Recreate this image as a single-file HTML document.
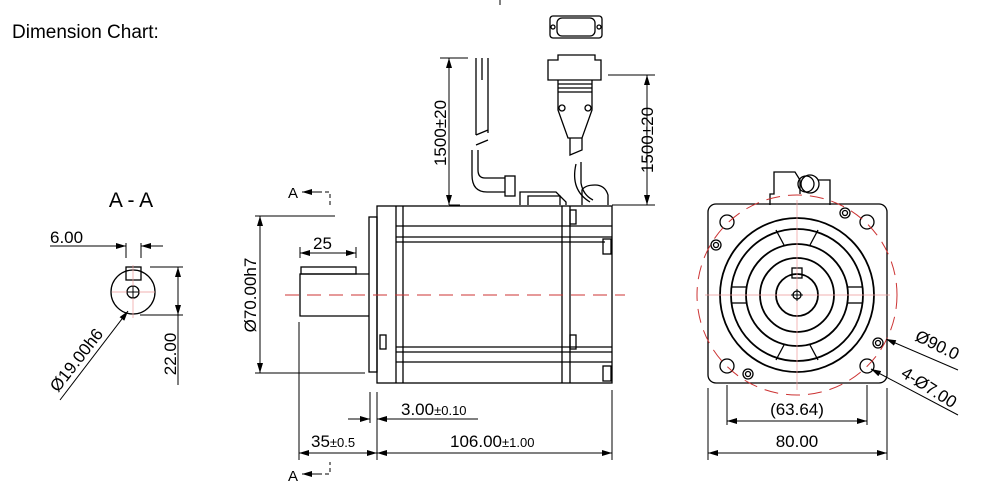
<!DOCTYPE html>
<html><head><meta charset="utf-8"><style>
html,body{margin:0;padding:0;background:#fff;}
svg{display:block;font-family:"Liberation Sans",sans-serif;}
</style></head><body>
<svg width="1000" height="484" viewBox="0 0 1000 484" xmlns="http://www.w3.org/2000/svg">
<defs>
<marker id="ar" viewBox="0 0 10 6" refX="10" refY="3" markerWidth="10" markerHeight="6" orient="auto-start-reverse" markerUnits="userSpaceOnUse"><path d="M0,0L10,3L0,6z" fill="#000"/></marker>
</defs>
<text x="12" y="38" font-size="19" fill="#000">Dimension Chart:</text>
<line x1="500" y1="0" x2="500" y2="5" stroke="#000"/>
<g fill="none" stroke="#000" stroke-width="1.3">
<rect x="377" y="206" width="235" height="177"/>
<rect x="369" y="217" width="8" height="155"/>
<line x1="396" y1="206" x2="396" y2="383"/><line x1="403" y1="206" x2="403" y2="383"/>
<line x1="562" y1="206" x2="562" y2="383"/><line x1="570" y1="206" x2="570" y2="383"/>
<line x1="396" y1="226" x2="612" y2="226"/><line x1="396" y1="237" x2="612" y2="237"/><line x1="396" y1="242" x2="605" y2="242"/>
<line x1="396" y1="347" x2="612" y2="347"/><line x1="396" y1="352" x2="612" y2="352"/><line x1="396" y1="362" x2="612" y2="362"/>
<rect x="380" y="335" width="6" height="14"/><rect x="570" y="335" width="6" height="14"/><rect x="603" y="366" width="8" height="15"/><rect x="603" y="239" width="8" height="15"/><rect x="570" y="210" width="6" height="14"/>
<path d="M369 274 H300 V316 H369"/>
<rect x="301" y="267" width="55" height="7"/>
<path d="M520 205 V192 H556 L566 202 V205"/>
<path d="M528 205 V196 H560 V205"/>
<rect x="505" y="176" width="10" height="20"/>
<path d="M505 178 H485 Q478 178 478 170 V150"/><path d="M505 192 H487 Q472 192 472 175 V150"/>
<path d="M476 135 L476 58 M488 58 L488 133 M476 135 L488 130 M476 145 L488 140"/>
<line x1="482" y1="58" x2="482" y2="80"/>
<path d="M582 205 V190 Q585 185 595 185 Q605 185 608 195 V205"/>
<path d="M576 164 Q570 190 590 202"/><path d="M581 162 L581 183 Q583 195 593 200"/>
<rect x="550" y="16" width="52" height="22" rx="3"/><rect x="557" y="18" width="38" height="18" rx="5"/>
<circle cx="553" cy="27" r="2"/><circle cx="599" cy="27" r="2"/>
<path d="M548 60 H558 V55 H595 V60 H601 V80 H548 Z"/>
<path d="M558 80 L558 110 L568 138 H582 L592 110 L592 80"/>
<circle cx="562" cy="108" r="3"/><circle cx="588" cy="108" r="3"/>
<line x1="558" y1="84" x2="592" y2="84"/><line x1="558" y1="88" x2="592" y2="88"/><line x1="558" y1="92" x2="592" y2="92"/>
<path d="M570 138 V155 L582 150 V138"/>
<rect x="708" y="204" width="179" height="179" rx="8"/>
<g stroke-width="1.8"><circle cx="797" cy="295" r="77"/><circle cx="797" cy="295" r="66"/><circle cx="797" cy="295" r="51"/><circle cx="797" cy="295" r="37"/><circle cx="797" cy="295" r="21"/></g>
<circle cx="797" cy="295" r="4"/>
<rect x="792" y="268" width="10" height="10"/>
<g><line x1="776" y1="230" x2="784" y2="245"/><line x1="818" y1="230" x2="810" y2="245"/><line x1="776" y1="360" x2="784" y2="345"/><line x1="818" y1="360" x2="810" y2="345"/>
<line x1="731" y1="287" x2="746" y2="287"/><line x1="731" y1="303" x2="746" y2="303"/><line x1="863" y1="287" x2="848" y2="287"/><line x1="863" y1="303" x2="848" y2="303"/></g>
<circle cx="727" cy="222" r="7"/><circle cx="867" cy="222" r="7"/><circle cx="727" cy="366" r="7"/><circle cx="867" cy="366" r="7"/>
<circle cx="716" cy="245" r="5"/><circle cx="716" cy="245" r="2.5"/><circle cx="845" cy="213" r="5"/><circle cx="845" cy="213" r="2.5"/>
<circle cx="878" cy="343" r="5"/><circle cx="878" cy="343" r="2.5"/><circle cx="748" cy="374" r="5"/><circle cx="748" cy="374" r="2.5"/>
<path d="M770 205 V194 H774 V172 H795 L800 180 V194"/><circle cx="810" cy="184" r="9"/><circle cx="806" cy="184" r="8"/>
<path d="M818 180 H830 V205"/>
<circle cx="133" cy="292" r="22"/><rect x="126" y="267" width="15" height="13"/><circle cx="133" cy="292" r="6"/>
</g>
<g fill="none" stroke="#c33" stroke-width="1" stroke-dasharray="14,8">
<line x1="285" y1="295" x2="625" y2="295"/>
<circle cx="797" cy="295" r="100"/>
</g>
<g stroke="#e99" stroke-width="0.7"><line x1="705" y1="295" x2="890" y2="295"/><line x1="797" y1="200" x2="797" y2="390"/><line x1="112" y1="292" x2="155" y2="292"/><line x1="133" y1="265" x2="133" y2="318"/></g>
<line x1="127" y1="292" x2="139" y2="292" stroke="#000"/><line x1="133" y1="286" x2="133" y2="298" stroke="#000"/>
<line x1="791" y1="295" x2="803" y2="295" stroke="#000"/><line x1="797" y1="289" x2="797" y2="301" stroke="#000"/>
<g stroke="#000" stroke-width="1" fill="none">
<line x1="255" y1="216" x2="335" y2="216"/><line x1="255" y1="373" x2="365" y2="373"/>
<line x1="260" y1="216" x2="260" y2="373" marker-start="url(#ar)" marker-end="url(#ar)"/>
<line x1="300" y1="247" x2="300" y2="258"/><line x1="356" y1="247" x2="356" y2="258"/>
<line x1="300" y1="253" x2="356" y2="253" marker-start="url(#ar)" marker-end="url(#ar)"/>
<line x1="370" y1="392" x2="370" y2="423"/><line x1="377" y1="392" x2="377" y2="460"/>
<line x1="348" y1="419" x2="370" y2="419" marker-end="url(#ar)"/><line x1="377" y1="419" x2="478" y2="419" marker-start="url(#ar)"/>
<line x1="299" y1="322" x2="299" y2="460"/><line x1="612" y1="390" x2="612" y2="460"/>
<line x1="299" y1="453" x2="377" y2="453" marker-start="url(#ar)" marker-end="url(#ar)"/>
<line x1="377" y1="453" x2="612" y2="453" marker-start="url(#ar)" marker-end="url(#ar)"/>
<line x1="440" y1="58" x2="468" y2="58"/><line x1="449" y1="58" x2="449" y2="205" marker-start="url(#ar)" marker-end="url(#ar)"/><line x1="449" y1="205" x2="460" y2="205"/>
<line x1="608" y1="75" x2="655" y2="75"/><line x1="612" y1="205" x2="655" y2="205"/>
<line x1="647" y1="75" x2="647" y2="205" marker-start="url(#ar)" marker-end="url(#ar)"/>
<line x1="708" y1="388" x2="708" y2="460"/><line x1="887" y1="388" x2="887" y2="460"/>
<line x1="708" y1="453" x2="887" y2="453" marker-start="url(#ar)" marker-end="url(#ar)"/>
<line x1="727" y1="385" x2="727" y2="425"/><line x1="867" y1="385" x2="867" y2="425"/>
<line x1="727" y1="421" x2="867" y2="421" marker-start="url(#ar)" marker-end="url(#ar)"/>
<line x1="958" y1="370" x2="886" y2="339" marker-end="url(#ar)"/>
<line x1="958" y1="415" x2="871" y2="369" marker-end="url(#ar)"/>
<line x1="50" y1="246" x2="126" y2="246" marker-end="url(#ar)"/><line x1="141" y1="246" x2="163" y2="246" marker-start="url(#ar)"/>
<line x1="126" y1="243" x2="126" y2="258"/><line x1="141" y1="243" x2="141" y2="258"/>
<line x1="150" y1="267" x2="183" y2="267"/><line x1="140" y1="315" x2="183" y2="315"/>
<line x1="178" y1="267" x2="178" y2="385" /><line x1="178" y1="267" x2="178" y2="315" marker-start="url(#ar)" marker-end="url(#ar)"/>
<line x1="60" y1="400" x2="128" y2="311" marker-end="url(#ar)"/>
<line x1="302" y1="192" x2="318" y2="192" marker-start="url(#ar)"/><path d="M318 192 H330 V205" stroke-dasharray="4,3"/>
<line x1="302" y1="474" x2="318" y2="474" marker-start="url(#ar)"/><path d="M318 474 H330 V462" stroke-dasharray="4,3"/>
</g>
<g font-size="17" fill="#000">
<text x="288" y="198" font-size="15">A</text><text x="288" y="481" font-size="15">A</text>
<text x="313" y="249">25</text>
<text transform="translate(256,295) rotate(-90)" text-anchor="middle">Ø70.00h7</text>
<text x="401" y="415">3.00<tspan font-size="13">±0.10</tspan></text>
<text x="311" y="447">35<tspan font-size="13">±0.5</tspan></text>
<text x="450" y="447">106.00<tspan font-size="13">±1.00</tspan></text>
<text transform="translate(446,133) rotate(-90)" text-anchor="middle">1500±20</text>
<text transform="translate(653,140) rotate(-90)" text-anchor="middle">1500±20</text>
<text x="797" y="415" text-anchor="middle">(63.64)</text>
<text x="797" y="447" text-anchor="middle">80.00</text>
<text transform="translate(914,340) rotate(26)">Ø90.0</text>
<text transform="translate(900,376) rotate(32)">4-Ø7.00</text>
<text x="131" y="207" font-size="21" text-anchor="middle">A - A</text>
<text x="50" y="243">6.00</text>
<text transform="translate(176,354) rotate(-90)" text-anchor="middle">22.00</text>
<text transform="translate(58,393) rotate(-52)">Ø19.00h6</text>
</g>
</svg>
</body></html>
